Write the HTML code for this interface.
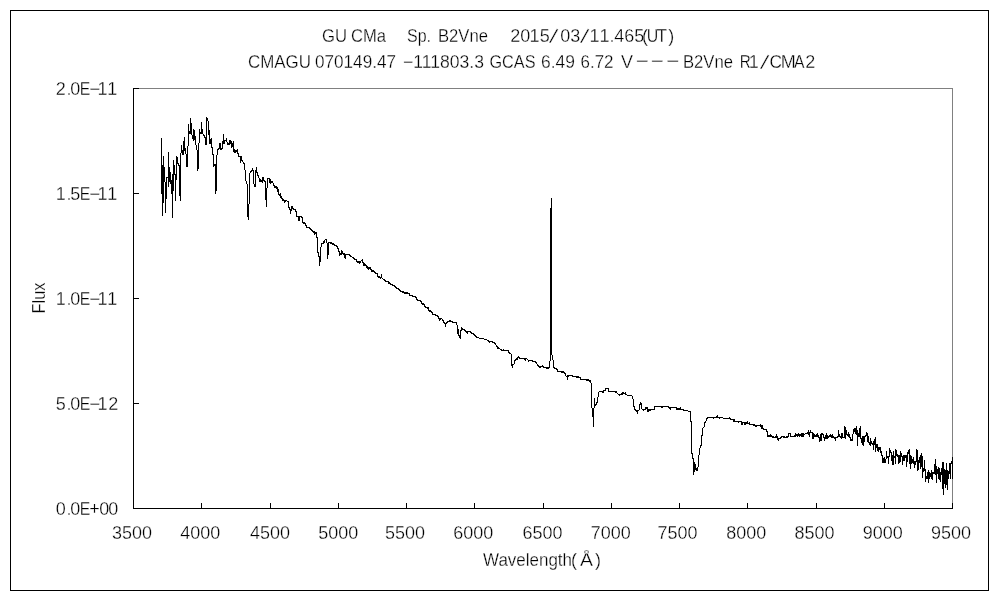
<!DOCTYPE html>
<html lang="en"><head><meta charset="utf-8"><title>GU CMa spectrum</title>
<style>html,body{margin:0;padding:0;background:#fff;}body{width:1000px;height:600px;overflow:hidden;font-family:"Liberation Sans",sans-serif;}svg{display:block;}</style>
</head><body>
<svg width="1000" height="600" viewBox="0 0 1000 600">
<rect x="0" y="0" width="1000" height="600" fill="#fff"/>
<g shape-rendering="crispEdges" fill="none" stroke-width="1">
<rect x="10.5" y="10.5" width="978" height="580" stroke="#000"/>
<path d="M133 88.5H953M952.5 88V509" stroke="#808080"/>
<path d="M133.5 88V509M133 508.5H953" stroke="#000"/>
<path d="M133 88.5H139M133 193.5H139M133 298.5H139M133 403.5H139M133 508.5H139M133.5 503V509M201.5 503V509M270.5 503V509M338.5 503V509M406.5 503V509M474.5 503V509M543.5 503V509M611.5 503V509M679.5 503V509M747.5 503V509M816.5 503V509M884.5 503V509M952.5 503V509" stroke="#000"/>
<path d="M161.5 138V194M162.5 165V216M163.5 156V203M164.5 167V182M165.5 182V213M166.5 177V199M167.5 177V178M168.5 152V187M169.5 167V182M170.5 172V184M171.5 180V194M172.5 174V218M173.5 160V191M174.5 165V175M175.5 174V201M176.5 156V180M177.5 157V164M178.5 163V166M179.5 165V196M180.5 153V201M181.5 145V153M182.5 150V155M183.5 141V155M184.5 137V151M185.5 148V154M186.5 154V167M187.5 146V167M188.5 124V146M189.5 131V134M190.5 118V134M191.5 123V135M192.5 135V139M193.5 129V141M194.5 130V140M195.5 136V145M196.5 145V150M197.5 150V171M198.5 143V169M199.5 129V143M200.5 132V134M201.5 122V134M202.5 129V134M203.5 134V136M204.5 135V138M205.5 137V145M206.5 117V145M207.5 118V121M208.5 121V135M209.5 130V144M210.5 139V144M211.5 138V148M212.5 147V155M213.5 154V167M214.5 164V166M215.5 164V194M216.5 155V191M217.5 149V155M218.5 148V150M219.5 143V149M220.5 143V150M221.5 148V150M222.5 141V149M223.5 134V144M224.5 140V144M225.5 140V141M226.5 138V142M227.5 142V145M228.5 143V145M229.5 140V145M230.5 140V144M231.5 141V148M232.5 143V147M233.5 141V152M234.5 149V153M235.5 150V153M236.5 150V152M237.5 149V154M238.5 153V157M239.5 156V157M240.5 156V163M241.5 156V161M242.5 160V162M243.5 162V164M244.5 163V170M245.5 170V181M246.5 181V184M247.5 184V217M248.5 204V220M249.5 173V204M250.5 171V173M251.5 170V172M252.5 168V171M253.5 170V184M254.5 184V187M255.5 170V187M256.5 167V173M257.5 172V176M258.5 175V178M259.5 178V182M260.5 179V182M261.5 180V182M262.5 177V183M263.5 177V181M264.5 180V182M265.5 181V200M266.5 188V207M267.5 178V188M268.5 178V179M269.5 178V183M270.5 179V184M271.5 181V183M272.5 181V183M273.5 183V186M274.5 185V188M275.5 186V188M276.5 186V189M277.5 187V192M278.5 189V195M279.5 194V196M280.5 193V198M281.5 196V199M282.5 198V201M283.5 199V201M284.5 200V203M285.5 200V202M286.5 200V201M287.5 201V202M288.5 201V208M289.5 207V210M290.5 209V214M291.5 206V211M292.5 206V209M293.5 208V210M294.5 209V210M295.5 209V212M296.5 211V217M297.5 216V217M298.5 216V221M299.5 216V221M300.5 216V217M301.5 216V218M302.5 217V223M303.5 222V224M304.5 222V224M305.5 223V226M306.5 225V228M307.5 227V228M308.5 227V228M309.5 227V229M310.5 228V230M311.5 229V231M312.5 230V232M313.5 231V233M314.5 231V235M315.5 232V234M316.5 232V238M317.5 237V253M318.5 252V257M319.5 256V266M320.5 247V262M321.5 243V247M322.5 243V244M323.5 241V244M324.5 240V243M325.5 239V240M326.5 239V243M327.5 243V259M328.5 242V255M329.5 242V243M330.5 242V244M331.5 242V244M332.5 243V245M333.5 243V245M334.5 244V246M335.5 245V246M336.5 245V247M337.5 246V249M338.5 248V252M339.5 251V256M340.5 253V255M341.5 250V255M342.5 251V254M343.5 253V255M344.5 253V258M345.5 254V259M346.5 254V255M347.5 254V255M348.5 254V255M349.5 254V256M350.5 255V257M351.5 256V257M352.5 257V258M353.5 257V259M354.5 258V260M355.5 259V260M356.5 259V262M357.5 261V263M358.5 261V263M359.5 261V264M360.5 261V263M361.5 260V261M362.5 259V263M363.5 262V266M364.5 263V266M365.5 264V266M366.5 265V268M367.5 266V269M368.5 267V270M369.5 267V269M370.5 267V270M371.5 269V272M372.5 270V272M373.5 270V272M374.5 271V273M375.5 272V274M376.5 273V274M377.5 273V277M378.5 276V278M379.5 276V278M380.5 277V279M381.5 274V278M382.5 278V279M383.5 279V280M384.5 279V281M385.5 280V282M386.5 281V282M387.5 281V282M388.5 281V284M389.5 282V284M390.5 283V285M391.5 284V285M392.5 284V286M393.5 285V286M394.5 285V287M395.5 286V288M396.5 287V289M397.5 288V289M398.5 288V290M399.5 289V291M400.5 290V292M401.5 291V292M402.5 291V293M403.5 291V293M404.5 292V294M405.5 292V294M406.5 292V294M407.5 292V294M408.5 293V294M409.5 293V296M410.5 295V296M411.5 295V296M412.5 295V297M413.5 296V297M414.5 296V297M415.5 296V298M416.5 297V300M417.5 299V301M418.5 300V301M419.5 300V301M420.5 300V302M421.5 301V304M422.5 303V305M423.5 303V305M424.5 304V307M425.5 306V308M426.5 307V308M427.5 307V309M428.5 307V311M429.5 310V312M430.5 310V312M431.5 311V313M432.5 312V315M433.5 314V315M434.5 314V315M435.5 314V316M436.5 315V316M437.5 315V317M438.5 316V319M439.5 318V321M440.5 318V320M441.5 318V319M442.5 319V321M443.5 320V323M444.5 322V324M445.5 323V327M446.5 322V324M447.5 321V323M448.5 321V322M449.5 320V322M450.5 320V322M451.5 321V322M452.5 321V323M453.5 322V323M454.5 322V323M455.5 322V323M456.5 322V325M457.5 325V334M458.5 329V336M459.5 335V338M460.5 330V339M461.5 327V331M462.5 328V330M463.5 329V330M464.5 329V331M465.5 330V332M466.5 331V333M467.5 331V334M468.5 331V332M469.5 331V332M470.5 331V333M471.5 332V334M472.5 333V334M473.5 333V335M474.5 334V336M475.5 335V337M476.5 336V338M477.5 337V338M478.5 337V338M479.5 338V339M480.5 338V339M481.5 338V339M482.5 338V339M483.5 338V339M484.5 339V340M485.5 339V340M486.5 339V340M487.5 340V341M488.5 340V342M489.5 341V343M490.5 341V342M491.5 341V342M492.5 341V343M493.5 342V343M494.5 342V344M495.5 343V345M496.5 345V347M497.5 346V349M498.5 347V349M499.5 348V349M500.5 349V350M501.5 349V351M502.5 350V351M503.5 349V351M504.5 350V351M505.5 350V351M506.5 350V351M507.5 350V351M508.5 350V353M509.5 352V354M510.5 353V354M511.5 354V366M512.5 364V368M513.5 364V365M514.5 360V364M515.5 359V361M516.5 358V360M517.5 357V360M518.5 356V358M519.5 357V359M520.5 358V359M521.5 358V359M522.5 358V359M523.5 358V359M524.5 358V360M525.5 358V361M526.5 358V359M527.5 359V360M528.5 360V362M529.5 360V361M530.5 360V361M531.5 360V361M532.5 360V362M533.5 361V362M534.5 361V362M535.5 361V363M536.5 362V364M537.5 364V366M538.5 365V367M539.5 366V368M540.5 366V368M541.5 366V367M542.5 365V367M543.5 366V368M544.5 367V368M545.5 367V368M546.5 367V369M547.5 367V369M548.5 367V369M549.5 361V368M550.5 208V361M551.5 198V355M552.5 355V360M553.5 360V368M554.5 367V369M555.5 368V369M556.5 368V370M557.5 369V372M558.5 371V372M559.5 371V372M560.5 371V372M561.5 371V373M562.5 371V373M563.5 371V373M564.5 372V374M565.5 373V376M566.5 376V377M567.5 375V380M568.5 375V377M569.5 375V376M570.5 375V376M571.5 375V376M572.5 375V377M573.5 376V377M574.5 376V377M575.5 376V377M576.5 376V378M577.5 376V378M578.5 376V378M579.5 377V378M580.5 377V380M581.5 379V380M582.5 379V380M583.5 379V380M584.5 379V380M585.5 379V380M586.5 379V381M587.5 379V381M588.5 379V381M589.5 380V382M590.5 380V383M591.5 383V408M592.5 408V417M593.5 408V427M594.5 398V408M595.5 404V406M596.5 402V405M597.5 397V403M598.5 392V397M599.5 391V392M600.5 391V392M601.5 391V392M602.5 391V393M603.5 390V393M604.5 390V391M605.5 388V391M606.5 388V389M607.5 388V389M608.5 388V392M609.5 391V392M610.5 391V392M611.5 391V392M612.5 391V392M613.5 391V392M614.5 391V392M615.5 391V393M616.5 391V393M617.5 393V394M618.5 394V395M619.5 394V396M620.5 394V395M621.5 393V395M622.5 392V395M623.5 392V394M624.5 393V394M625.5 392V395M626.5 394V395M627.5 395V396M628.5 395V396M629.5 395V396M630.5 395V396M631.5 395V396M632.5 396V399M633.5 399V407M634.5 406V410M635.5 409V411M636.5 410V412M637.5 410V414M638.5 410V411M639.5 404V410M640.5 402V405M641.5 403V409M642.5 409V410M643.5 409V411M644.5 409V410M645.5 407V410M646.5 407V409M647.5 407V412M648.5 409V412M649.5 409V411M650.5 409V411M651.5 409V410M652.5 409V410M653.5 409V410M654.5 406V410M655.5 406V407M656.5 406V407M657.5 406V407M658.5 406V407M659.5 406V407M660.5 406V407M661.5 406V408M662.5 406V408M663.5 406V407M664.5 406V407M665.5 406V407M666.5 406V407M667.5 406V407M668.5 406V408M669.5 407V409M670.5 407V410M671.5 407V408M672.5 407V408M673.5 407V408M674.5 407V408M675.5 407V408M676.5 407V410M677.5 408V410M678.5 408V410M679.5 408V410M680.5 407V410M681.5 409V410M682.5 409V410M683.5 409V411M684.5 410V411M685.5 410V411M686.5 410V411M687.5 410V411M688.5 411V412M689.5 411V412M690.5 411V422M691.5 421V454M692.5 453V459M693.5 458V475M694.5 462V472M695.5 464V470M696.5 468V471M697.5 467V471M698.5 455V467M699.5 448V455M700.5 445V448M701.5 435V446M702.5 428V436M703.5 427V428M704.5 422V427M705.5 421V423M706.5 418V421M707.5 417V419M708.5 417V418M709.5 417V418M710.5 417V418M711.5 417V418M712.5 417V418M713.5 417V419M714.5 417V418M715.5 417V418M716.5 416V418M717.5 415V418M718.5 417V418M719.5 417V419M720.5 417V418M721.5 417V418M722.5 417V418M723.5 418V419M724.5 418V419M725.5 418V419M726.5 418V419M727.5 418V419M728.5 418V419M729.5 417V419M730.5 418V420M731.5 419V420M732.5 419V420M733.5 419V422M734.5 419V422M735.5 421V422M736.5 421V422M737.5 421V422M738.5 421V423M739.5 421V422M740.5 421V422M741.5 421V425M742.5 422V425M743.5 422V423M744.5 422V425M745.5 422V425M746.5 422V424M747.5 421V424M748.5 423V424M749.5 422V425M750.5 424V425M751.5 424V425M752.5 424V425M753.5 424V426M754.5 424V426M755.5 425V427M756.5 425V427M757.5 425V426M758.5 425V426M759.5 425V426M760.5 424V427M761.5 425V429M762.5 425V429M763.5 428V430M764.5 429V430M765.5 429V430M766.5 429V432M767.5 431V437M768.5 435V437M769.5 435V437M770.5 434V437M771.5 435V437M772.5 436V438M773.5 436V438M774.5 437V438M775.5 436V438M776.5 434V438M777.5 436V440M778.5 438V441M779.5 438V439M780.5 437V439M781.5 436V438M782.5 436V437M783.5 436V438M784.5 436V438M785.5 437V438M786.5 436V438M787.5 436V438M788.5 433V437M789.5 433V434M790.5 433V437M791.5 436V437M792.5 436V437M793.5 436V437M794.5 435V437M795.5 433V437M796.5 434V436M797.5 434V437M798.5 433V436M799.5 434V437M800.5 434V436M801.5 433V437M802.5 433V437M803.5 433V437M804.5 434V435M805.5 433V434M806.5 433V434M807.5 432V434M808.5 430V435M809.5 432V437M810.5 430V433M811.5 432V433M812.5 432V439M813.5 433V439M814.5 434V437M815.5 435V437M816.5 434V437M817.5 433V437M818.5 435V438M819.5 437V442M820.5 434V441M821.5 433V441M822.5 433V435M823.5 434V438M824.5 437V441M825.5 435V439M826.5 433V439M827.5 435V439M828.5 436V438M829.5 435V437M830.5 434V437M831.5 435V438M832.5 434V438M833.5 436V438M834.5 437V439M835.5 437V441M836.5 437V438M837.5 436V438M838.5 430V437M839.5 434V437M840.5 436V438M841.5 433V439M842.5 433V438M843.5 437V438M844.5 426V438M845.5 427V439M846.5 430V435M847.5 434V436M848.5 432V437M849.5 434V438M850.5 437V441M851.5 439V441M852.5 434V441M853.5 429V434M854.5 428V432M855.5 428V434M856.5 426V435M857.5 430V446M858.5 433V437M859.5 428V437M860.5 426V439M861.5 438V443M862.5 436V445M863.5 436V446M864.5 436V442M865.5 435V437M866.5 432V436M867.5 433V442M868.5 436V443M869.5 442V445M870.5 438V446M871.5 441V444M872.5 443V445M873.5 441V450M874.5 439V445M875.5 437V452M876.5 444V448M877.5 444V451M878.5 447V452M879.5 447V450M880.5 447V453M881.5 451V456M882.5 455V463M883.5 458V463M884.5 457V463M885.5 459V463M886.5 451V459M887.5 456V458M888.5 456V464M889.5 448V457M890.5 450V453M891.5 452V461M892.5 455V465M893.5 451V465M894.5 456V458M895.5 449V464M896.5 450V456M897.5 454V457M898.5 455V464M899.5 455V463M900.5 451V462M901.5 453V457M902.5 456V465M903.5 455V461M904.5 455V461M905.5 455V458M906.5 455V467M907.5 452V462M908.5 450V454M909.5 449V464M910.5 455V469M911.5 456V464M912.5 459V463M913.5 457V464M914.5 461V468M915.5 461V465M916.5 449V462M917.5 450V471M918.5 460V470M919.5 457V463M920.5 455V469M921.5 453V467M922.5 456V478M923.5 468V472M924.5 460V471M925.5 469V482M926.5 476V479M927.5 472V479M928.5 470V483M929.5 472V479M930.5 473V477M931.5 470V479M932.5 472V480M933.5 472V474M934.5 464V474M935.5 459V475M936.5 466V483M937.5 469V474M938.5 467V479M939.5 468V480M940.5 472V482M941.5 468V475M942.5 462V489M943.5 462V495M944.5 469V484M945.5 470V488M946.5 463V485M947.5 470V490M948.5 471V479M949.5 463V474M950.5 463V479M951.5 461V464M952.5 457V479" stroke="#000"/>
</g>
<g font-family="'Liberation Sans', sans-serif" font-size="18px" fill="#000" stroke="#fff" stroke-width="0.3">
<text y="42"><tspan x="322" y="42" textLength="25" lengthAdjust="spacingAndGlyphs">GU</tspan> <tspan x="351" y="42" textLength="35" lengthAdjust="spacingAndGlyphs">CMa</tspan> <tspan x="407" y="42" textLength="24" lengthAdjust="spacingAndGlyphs">Sp.</tspan> <tspan x="438" y="42" textLength="50" lengthAdjust="spacingAndGlyphs">B2Vne</tspan> <tspan x="510.2" y="42">2</tspan><tspan x="520.2" y="42">0</tspan><tspan x="529.5" y="42">1</tspan><tspan x="539.8" y="42">5</tspan><tspan x="549" y="42.5" font-size="21px" rotate="14">/</tspan><tspan x="560.2" y="42">0</tspan><tspan x="570.2" y="42">3</tspan><tspan x="580" y="42.5" font-size="21px" rotate="14">/</tspan><tspan x="589.5" y="42">1</tspan><tspan x="599.5" y="42">1</tspan><tspan x="609.5" y="42">.</tspan><tspan x="614.3" y="42">4</tspan><tspan x="624.2" y="42">6</tspan><tspan x="634.2" y="42">5</tspan><tspan x="642" y="42">(</tspan><tspan x="646.8" y="42" textLength="11.5" lengthAdjust="spacingAndGlyphs">U</tspan><tspan x="656.6" y="42" textLength="10.5" lengthAdjust="spacingAndGlyphs">T</tspan><tspan x="668.3" y="42">)</tspan></text>
<text y="68"><tspan x="248" y="68" textLength="63" lengthAdjust="spacingAndGlyphs">CMAGU</tspan> <tspan x="315" y="68" textLength="81" lengthAdjust="spacingAndGlyphs">070149.47</tspan> <tspan x="403" y="68" textLength="81" lengthAdjust="spacingAndGlyphs">−111803.3</tspan> <tspan x="489.5" y="68" textLength="46" lengthAdjust="spacingAndGlyphs">GCAS</tspan> <tspan x="541" y="68" textLength="34" lengthAdjust="spacingAndGlyphs">6.49</tspan> <tspan x="580.5" y="68" textLength="33" lengthAdjust="spacingAndGlyphs">6.72</tspan> <tspan x="621" y="68" textLength="12" lengthAdjust="spacingAndGlyphs">V</tspan> <tspan x="635.8" y="67.3" textLength="13" lengthAdjust="spacingAndGlyphs">−</tspan> <tspan x="650.8" y="67.3" textLength="13" lengthAdjust="spacingAndGlyphs">−</tspan> <tspan x="666.3" y="67.3" textLength="13" lengthAdjust="spacingAndGlyphs">−</tspan> <tspan x="683" y="68" textLength="50" lengthAdjust="spacingAndGlyphs">B2Vne</tspan> <tspan x="739.7" y="68" textLength="11" lengthAdjust="spacingAndGlyphs">R</tspan><tspan x="748.8" y="68">1</tspan><tspan x="760" y="68.5" font-size="21px" rotate="14">/</tspan><tspan x="769.5" y="68" textLength="12.5" lengthAdjust="spacingAndGlyphs">C</tspan><tspan x="780.7" y="68">M</tspan><tspan x="794" y="68" textLength="10.5" lengthAdjust="spacingAndGlyphs">A</tspan><tspan x="805.2" y="68">2</tspan></text>
<text y="95"><tspan x="55.8" y="95">2</tspan><tspan x="66.5" y="95">.</tspan><tspan x="70.2" y="95">0</tspan><tspan x="79.8" y="95" textLength="10.5" lengthAdjust="spacingAndGlyphs">E</tspan><tspan x="89.2" y="95" textLength="11" lengthAdjust="spacingAndGlyphs">−</tspan><tspan x="97.4" y="95">1</tspan><tspan x="107.2" y="95">1</tspan></text>
<text y="200"><tspan x="55.8" y="200">1</tspan><tspan x="66.5" y="200">.</tspan><tspan x="70.2" y="200">5</tspan><tspan x="79.8" y="200" textLength="10.5" lengthAdjust="spacingAndGlyphs">E</tspan><tspan x="89.2" y="200" textLength="11" lengthAdjust="spacingAndGlyphs">−</tspan><tspan x="97.4" y="200">1</tspan><tspan x="107.2" y="200">1</tspan></text>
<text y="305"><tspan x="55.8" y="305">1</tspan><tspan x="66.5" y="305">.</tspan><tspan x="70.2" y="305">0</tspan><tspan x="79.8" y="305" textLength="10.5" lengthAdjust="spacingAndGlyphs">E</tspan><tspan x="89.2" y="305" textLength="11" lengthAdjust="spacingAndGlyphs">−</tspan><tspan x="97.4" y="305">1</tspan><tspan x="107.2" y="305">1</tspan></text>
<text y="410"><tspan x="55.8" y="410">5</tspan><tspan x="66.5" y="410">.</tspan><tspan x="70.2" y="410">0</tspan><tspan x="79.8" y="410" textLength="10.5" lengthAdjust="spacingAndGlyphs">E</tspan><tspan x="89.2" y="410" textLength="11" lengthAdjust="spacingAndGlyphs">−</tspan><tspan x="97.4" y="410">1</tspan><tspan x="108.3" y="410">2</tspan></text>
<text y="515"><tspan x="55.8" y="515">0</tspan><tspan x="66.5" y="515">.</tspan><tspan x="70.2" y="515">0</tspan><tspan x="79.8" y="515" textLength="10.5" lengthAdjust="spacingAndGlyphs">E</tspan><tspan x="89.2" y="515">+</tspan><tspan x="99.3" y="515">0</tspan><tspan x="108.3" y="515">0</tspan></text>
<text y="539"><tspan x="112.0" y="539" textLength="40" lengthAdjust="spacingAndGlyphs">3500</tspan></text>
<text y="539"><tspan x="180.2" y="539" textLength="40" lengthAdjust="spacingAndGlyphs">4000</tspan></text>
<text y="539"><tspan x="250.0" y="539" textLength="40" lengthAdjust="spacingAndGlyphs">4500</tspan></text>
<text y="539"><tspan x="318.2" y="539" textLength="40" lengthAdjust="spacingAndGlyphs">5000</tspan></text>
<text y="539"><tspan x="385.0" y="539" textLength="40" lengthAdjust="spacingAndGlyphs">5500</tspan></text>
<text y="539"><tspan x="453.2" y="539" textLength="40" lengthAdjust="spacingAndGlyphs">6000</tspan></text>
<text y="539"><tspan x="522.5" y="539" textLength="40" lengthAdjust="spacingAndGlyphs">6500</tspan></text>
<text y="539"><tspan x="590.8" y="539" textLength="40" lengthAdjust="spacingAndGlyphs">7000</tspan></text>
<text y="539"><tspan x="657.5" y="539" textLength="40" lengthAdjust="spacingAndGlyphs">7500</tspan></text>
<text y="539"><tspan x="726.2" y="539" textLength="40" lengthAdjust="spacingAndGlyphs">8000</tspan></text>
<text y="539"><tspan x="794.5" y="539" textLength="40" lengthAdjust="spacingAndGlyphs">8500</tspan></text>
<text y="539"><tspan x="862.8" y="539" textLength="40" lengthAdjust="spacingAndGlyphs">9000</tspan></text>
<text y="539"><tspan x="931.0" y="539" textLength="40" lengthAdjust="spacingAndGlyphs">9500</tspan></text>
<text y="566"><tspan x="483" y="566" textLength="89" lengthAdjust="spacingAndGlyphs">Wavelength</tspan><tspan x="571" y="566">(</tspan><tspan x="580" y="566" textLength="13" lengthAdjust="spacingAndGlyphs">Å</tspan><tspan x="595" y="566" textLength="6" lengthAdjust="spacingAndGlyphs">)</tspan></text>
<text transform="translate(45,313.5) rotate(-90)" textLength="31" lengthAdjust="spacingAndGlyphs">Flux</text>
</g>
</svg>
</body></html>
